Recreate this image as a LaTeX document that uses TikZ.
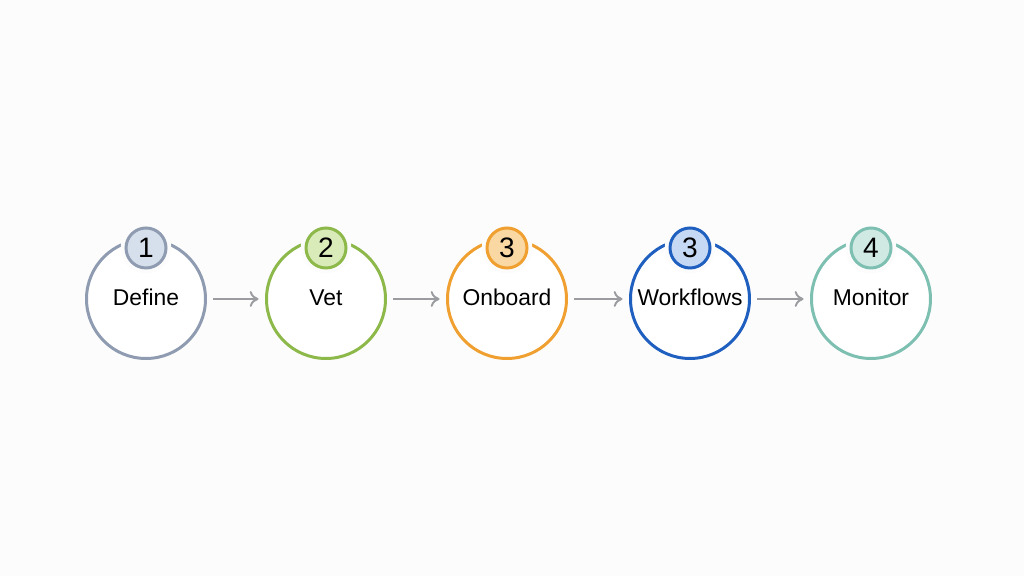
\documentclass[tikz,border=0pt]{standalone}
\usepackage{fontspec}
\setmainfont{Liberation Sans}
\usetikzlibrary{arrows.meta}

\definecolor{bgcol}{HTML}{FCFCFC}
\definecolor{arrowcol}{HTML}{9A9CA0}
\definecolor{defineline}{HTML}{8E9BB0}
\definecolor{definefill}{HTML}{D6DFEC}
\definecolor{vetline}{HTML}{8DB84A}
\definecolor{vetfill}{HTML}{DAEBBA}
\definecolor{onboardline}{HTML}{F0A030}
\definecolor{onboardfill}{HTML}{FAD8A4}
\definecolor{workline}{HTML}{1F5FBF}
\definecolor{workfill}{HTML}{C6D9F4}
\definecolor{monline}{HTML}{7DC0B2}
\definecolor{monfill}{HTML}{D0E9E3}

\tikzset{
  stage/.style={circle, draw=#1, line width=1.7pt, fill=white, minimum size=2.38cm, inner sep=0pt,
    text height=1.6ex, text depth=0.1ex, font=\fontsize{13}{15}\selectfont},
  badge/.style={circle, draw=#1, line width=1.7pt, minimum size=0.8cm, inner sep=0pt,
    font=\fontsize{16}{18}\selectfont, preaction={draw=bgcol, line width=6pt}},
  flow/.style={-{To[length=5pt,width=9pt]}, draw=arrowcol, line width=1.1pt, shorten >=0.13cm, shorten <=0.13cm}
}

\begin{document}
\begin{tikzpicture}
			%%%%% START %%%%%
			
			\fill[bgcol] (0, 0) rectangle (20.48, 11.52);
			
			\node[stage=defineline] (define) at (2.92, 5.54) {Define};
			\node[badge=defineline, fill=definefill] (one) at (2.92, 6.56) {1};
			
			\node[stage=vetline] (vet) at (6.52, 5.54) {Vet};
			\node[badge=vetline, fill=vetfill] (two) at (6.52, 6.56) {2};
			
			\node[stage=onboardline] (onboard) at (10.14, 5.54) {Onboard};
			\node[badge=onboardline, fill=onboardfill] (three) at (10.14, 6.56) {3};
			
			\node[stage=workline] (workflows) at (13.80, 5.54) {Workflows};
			\node[badge=workline, fill=workfill] (threeb) at (13.80, 6.56) {3};
			
			\node[stage=monline] (monitor) at (17.42, 5.54) {Monitor};
			\node[badge=monline, fill=monfill] (four) at (17.42, 6.56) {4};
			
			\draw[flow] (define) -- (vet);
			\draw[flow] (vet) -- (onboard);
			\draw[flow] (onboard) -- (workflows);
			\draw[flow] (workflows) -- (monitor);
			
			%%%%% END %%%%%
		\end{tikzpicture}
\end{document}
